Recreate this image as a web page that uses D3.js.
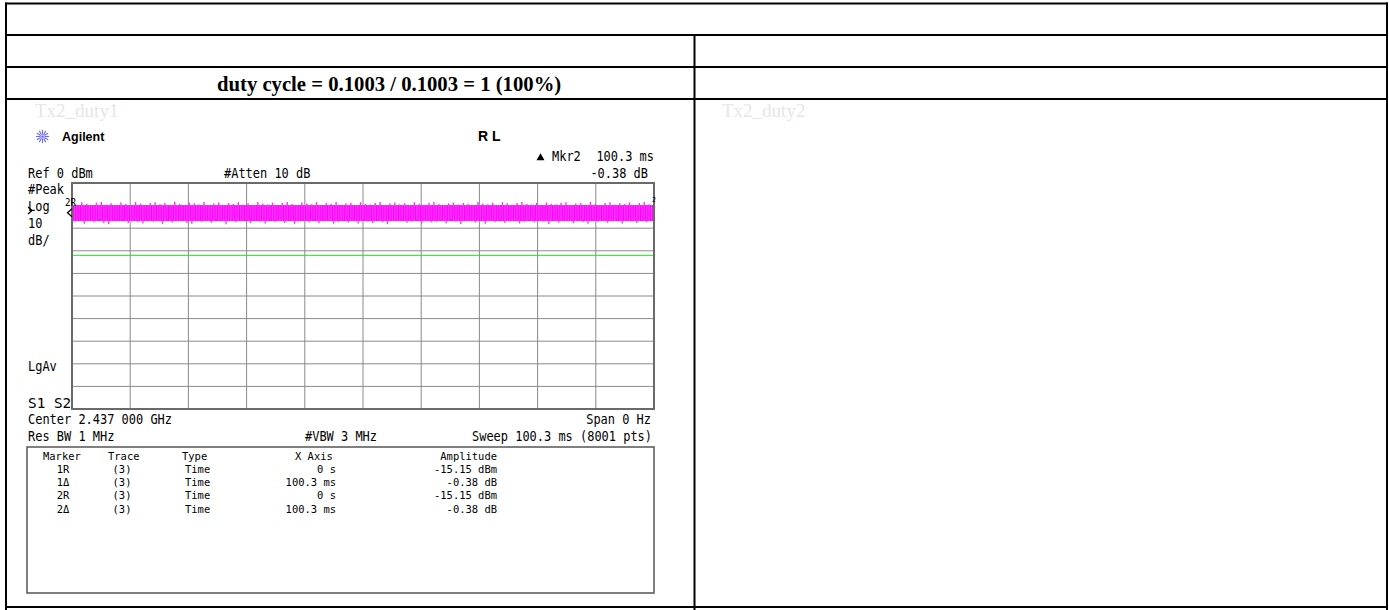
<!DOCTYPE html>
<html>
<head>
<meta charset="utf-8">
<style>
  body { margin: 0; background: #fff; }
  svg { display: block; }
  .lcd { font-family: "DejaVu Sans Mono", monospace; fill: #000; }
  .doc-line { stroke: #000; stroke-width: 2; }
</style>
</head>
<body>
<svg id="page" width="1389" height="610"></svg>

<script src="https://d3js.org/d3.v7.min.js"></script>
<script>
  // Analyzer settings
  const sweepMs = 100.3;
  const refLevel = 0;
  const dbPerDiv = 10;
  const divisions = 10;
  const displayLine = -32;

  // Trace envelope per sample (dBm): peaks above and dips below the dense core
  const traceHi = [
    -8.8, -9.6, -8.5, -9.2, -9.9, -8.7, -8.4, -9.5, -9.0, -9.8, -8.6, -9.3,
    -9.7, -8.4, -9.1, -10.0, -8.8, -8.5, -9.4, -8.9, -9.6, -8.3, -9.2, -9.8,
    -8.7, -9.0, -9.5, -8.4, -9.9, -9.1, -8.6, -9.7, -8.9, -9.3, -8.5, -9.6,
    -9.0, -9.8, -8.4, -9.2, -9.5, -8.7, -10.0, -8.8, -8.4, -9.3, -9.7, -8.6,
    -9.1, -9.4, -8.5, -9.8, -8.9, -9.2, -8.4, -9.6, -9.0, -8.7, -9.9, -8.5,
    -9.3, -9.5, -8.8, -8.4, -9.7, -9.1, -8.6, -9.4, -8.9, -9.8, -8.5, -9.2,
    -9.6, -8.7, -8.4, -9.3, -9.9, -9.0, -8.6, -9.5, -8.8, -9.2, -9.7, -8.4,
    -9.1, -9.4, -8.7, -9.8, -8.5, -9.0, -9.6, -8.9, -8.4, -9.3, -9.5, -8.8,
    -10.0, -8.6, -9.2, -9.4, -8.7, -8.5, -9.7, -9.1, -8.9, -9.6, -8.4, -9.2,
    -9.8, -8.8, -8.5, -9.5, -9.0, -9.3, -8.6, -9.7, -8.9, -8.4, -9.4, -8.7
  ];
  const traceLo = [
    -17.1, -16.5, -18.0, -16.8, -17.4, -16.3, -17.7, -18.2, -16.6, -17.0, -16.4, -17.8,
    -16.7, -17.3, -17.9, -16.5, -17.1, -16.8, -18.1, -16.4, -17.5, -16.9, -16.6, -17.7,
    -18.0, -16.5, -17.2, -16.8, -17.6, -16.3, -17.0, -18.2, -16.7, -17.4, -16.9, -16.5,
    -17.8, -16.6, -17.1, -17.9, -16.4, -17.3, -16.8, -17.7, -16.5, -18.1, -17.0, -16.7,
    -17.4, -16.3, -17.8, -16.9, -16.6, -18.0, -17.2, -16.5, -17.5, -16.8, -17.9, -16.4,
    -17.1, -17.7, -16.6, -17.3, -18.2, -16.7, -16.9, -16.5, -17.6, -17.0, -16.4, -17.9,
    -16.8, -17.4, -17.1, -16.6, -17.8, -16.3, -17.2, -18.1, -16.7, -16.9, -17.5, -16.5,
    -18.0, -16.8, -17.3, -16.4, -17.7, -17.0, -16.6, -17.9, -17.2, -16.5, -17.4, -16.8,
    -17.1, -18.1, -16.7, -17.5, -16.4, -16.9, -17.8, -16.6, -17.3, -18.0, -16.5, -17.2,
    -16.8, -17.6, -17.0, -16.4, -17.9, -16.7, -17.1, -17.7, -16.5, -17.3, -16.6, -17.4
  ];
  const traceCore = [-9.9, -16.8];

  // markers drawn on the trace: label, time (ms), level on screen (dBm)
  const markerMarks = [
    { label: '2R', t: 0, level: -13.2 },
    { label: '2', t: 100.3, level: -9.6 }
  ];

  // marker table
  const tableHeads = ['Marker', 'Trace', 'Type', 'X Axis', 'Amplitude'];
  const markerNames = ['1R', '1Δ', '2R', '2Δ'];
  const markerTrace = ['(3)', '(3)', '(3)', '(3)'];
  const markerType = ['Time', 'Time', 'Time', 'Time'];
  const markerX = ['0 s', '100.3 ms', '0 s', '100.3 ms'];
  const markerAmp = ['-15.15 dBm', '-0.38 dB', '-15.15 dBm', '-0.38 dB'];

  const svg = d3.select('#page');

  // ---- document table round the screenshot ----
  const doc = svg.append('g');
  [3.5, 35, 67, 99, 607].forEach(y => {
    doc.append('line').attr('class', 'doc-line')
      .attr('x1', 5).attr('x2', 1388).attr('y1', y).attr('y2', y);
  });
  doc.append('line').attr('class', 'doc-line').attr('x1', 6).attr('x2', 6).attr('y1', 2.5).attr('y2', 610);
  doc.append('line').attr('class', 'doc-line').attr('x1', 1387).attr('x2', 1387).attr('y1', 2.5).attr('y2', 610);
  doc.append('line').attr('class', 'doc-line').attr('x1', 694.5).attr('x2', 694.5).attr('y1', 35).attr('y2', 610);

  doc.append('text')
    .attr('x', 217).attr('y', 91)
    .attr('font-family', '"Liberation Serif", "Times New Roman", serif')
    .attr('font-weight', 'bold').attr('font-size', 20.7)
    .text('duty cycle = 0.1003 / 0.1003 = 1 (100%)');

  doc.append('text').attr('x', 35).attr('y', 117)
    .attr('font-family', '"Liberation Serif", serif').attr('font-size', 19)
    .attr('fill', '#e6e6e6').text('Tx2_duty1');
  doc.append('text').attr('x', 722).attr('y', 117)
    .attr('font-family', '"Liberation Serif", serif').attr('font-size', 19)
    .attr('fill', '#e6e6e6').text('Tx2_duty2');

  // ---- analyzer screen ----
  const scr = svg.append('g');

  function lcd(g, str, x, y, o = {}) {
    const size = o.size || 14, cw = o.cw || 7.2;
    return g.append('text').attr('class', 'lcd')
      .attr('x', x).attr('y', y)
      .attr('font-size', size)
      .attr('text-anchor', o.anchor || 'start')
      .attr('textLength', str.length * cw)
      .attr('lengthAdjust', 'spacingAndGlyphs')
      .text(str);
  }

  // Agilent logo
  const logo = scr.append('g').attr('transform', 'translate(42.5,136.5)');
  d3.range(12).forEach(i => {
    const a = i * Math.PI / 6;
    logo.append('line')
      .attr('x1', Math.cos(a) * 2).attr('y1', Math.sin(a) * 2)
      .attr('x2', Math.cos(a) * 6.5).attr('y2', Math.sin(a) * 6.5)
      .attr('stroke', '#6a6af5').attr('stroke-width', 1.1);
  });
  logo.append('circle').attr('r', 1.3).attr('fill', '#6a6af5');
  scr.append('text').attr('x', 62).attr('y', 141)
    .attr('font-family', '"Liberation Sans", Arial, sans-serif')
    .attr('font-weight', 'bold').attr('font-size', 12.5).text('Agilent');
  scr.append('text').attr('x', 478).attr('y', 141)
    .attr('font-family', '"Liberation Sans", Arial, sans-serif')
    .attr('font-weight', 'bold').attr('font-size', 14).text('R L');

  // marker readout
  scr.append('path').attr('d', d3.symbol(d3.symbolTriangle, 28)())
    .attr('transform', 'translate(540.5,158)').attr('fill', '#000');
  lcd(scr, 'Mkr2', 552, 161);
  lcd(scr, '100.3 ms', 654, 161, { anchor: 'end' });
  lcd(scr, '-0.38 dB', 648, 178, { anchor: 'end' });
  lcd(scr, 'Ref 0 dBm', 28, 178);
  lcd(scr, '#Atten 10 dB', 224, 178);

  lcd(scr, '#Peak', 28, 194);
  lcd(scr, 'Log', 28, 211);
  lcd(scr, '10', 28, 228);
  lcd(scr, 'dB/', 28, 245);
  lcd(scr, 'LgAv', 28, 371);
  lcd(scr, 'S1  S2', 28, 408);
  scr.append('path').attr('d', 'M28,207 L32,210.5 L28,214')
    .attr('fill', 'none').attr('stroke', '#000').attr('stroke-width', 1.3);

  lcd(scr, 'Center 2.437 000 GHz', 28, 424);
  lcd(scr, 'Span 0 Hz', 651, 424, { anchor: 'end' });
  lcd(scr, 'Res BW 1 MHz', 28, 441);
  lcd(scr, '#VBW 3 MHz', 305, 441);
  lcd(scr, 'Sweep 100.3 ms (8001 pts)', 652, 441, { anchor: 'end' });

  // graticule
  const x = d3.scaleLinear().domain([0, sweepMs]).range([72, 654]);
  const y = d3.scaleLinear()
    .domain([refLevel, refLevel - dbPerDiv * divisions])
    .range([183, 409]);

  const grid = scr.append('g');
  grid.selectAll('.vx').data(d3.range(1, divisions)).join('line')
    .attr('x1', d => x(d * sweepMs / divisions)).attr('x2', d => x(d * sweepMs / divisions))
    .attr('y1', y.range()[0]).attr('y2', y.range()[1])
    .attr('stroke', '#8a8a8a').attr('stroke-width', 1);
  grid.selectAll('.hy').data(d3.range(1, divisions)).join('line')
    .attr('x1', x.range()[0]).attr('x2', x.range()[1])
    .attr('y1', d => y(refLevel - d * dbPerDiv)).attr('y2', d => y(refLevel - d * dbPerDiv))
    .attr('stroke', '#8a8a8a').attr('stroke-width', 1);

  scr.append('line')
    .attr('x1', x(0)).attr('x2', x(sweepMs))
    .attr('y1', y(displayLine)).attr('y2', y(displayLine))
    .attr('stroke', '#22e022').attr('stroke-width', 1);

  svg.append('clipPath').attr('id', 'plotClip').append('rect')
    .attr('x', x(0)).attr('y', y.range()[0])
    .attr('width', x(sweepMs) - x(0)).attr('height', y.range()[1] - y.range()[0]);

  // trace
  const tr = scr.append('g').attr('clip-path', 'url(#plotClip)');
  const n = traceHi.length;
  const tAt = i => i * sweepMs / (n - 1);
  const half = (x(tAt(1)) - x(tAt(0))) / 2;
  tr.append('rect')
    .attr('x', x(0)).attr('y', y(traceCore[0]))
    .attr('width', x(sweepMs) - x(0)).attr('height', y(traceCore[1]) - y(traceCore[0]))
    .attr('fill', '#ff00ff');
  tr.selectAll('.up').data(traceHi).join('line')
    .attr('x1', (d, i) => x(tAt(i))).attr('x2', (d, i) => x(tAt(i)))
    .attr('y1', d => y(d)).attr('y2', y(traceCore[1]))
    .attr('stroke', '#ff33ff').attr('stroke-width', 1.4);
  tr.selectAll('.dn').data(traceLo).join('line')
    .attr('x1', (d, i) => x(tAt(i)) + half).attr('x2', (d, i) => x(tAt(i)) + half)
    .attr('y1', y(traceCore[0])).attr('y2', d => y(d))
    .attr('stroke', '#ff33ff').attr('stroke-width', 1.4);

  // frame on top
  scr.append('rect')
    .attr('x', x(0)).attr('y', y.range()[0])
    .attr('width', x(sweepMs) - x(0)).attr('height', y.range()[1] - y.range()[0])
    .attr('fill', 'none').attr('stroke', '#6a6a6a').attr('stroke-width', 2);

  // markers on trace
  markerMarks.forEach(m => {
    const mx = x(m.t), my = y(m.level);
    if (m.t === 0) {
      scr.append('path')
        .attr('d', `M${mx},${my - 4} L${mx - 4.5},${my} L${mx},${my + 4}`)
        .attr('fill', 'none').attr('stroke', '#000').attr('stroke-width', 1.3);
      lcd(scr, m.label, mx - 7, my - 7, { size: 10, cw: 5.5 });
    } else {
      lcd(scr, m.label, mx - 2, my - 3, { size: 7, cw: 4 });
    }
  });

  // marker table
  const tbl = scr.append('g');
  tbl.append('rect').attr('x', 27).attr('y', 447).attr('width', 627).attr('height', 146)
    .attr('fill', 'none').attr('stroke', '#555').attr('stroke-width', 1.5);
  const t0 = 459.5, rowH = 13.3;
  const tOpt = { size: 11, cw: 6.3 };
  lcd(tbl, tableHeads[0], 43, t0, tOpt);
  lcd(tbl, tableHeads[1], 108, t0, tOpt);
  lcd(tbl, tableHeads[2], 182, t0, tOpt);
  lcd(tbl, tableHeads[3], 295, t0, tOpt);
  lcd(tbl, tableHeads[4], 497, t0, { ...tOpt, anchor: 'end' });
  markerNames.forEach((name, i) => {
    const yy = t0 + (i + 1) * rowH;
    lcd(tbl, name, 63, yy, { ...tOpt, anchor: 'middle' });
    lcd(tbl, markerTrace[i], 122, yy, { ...tOpt, anchor: 'middle' });
    lcd(tbl, markerType[i], 185, yy, tOpt);
    lcd(tbl, markerX[i], 336, yy, { ...tOpt, anchor: 'end' });
    lcd(tbl, markerAmp[i], 497, yy, { ...tOpt, anchor: 'end' });
  });
</script>
</body>
</html>
